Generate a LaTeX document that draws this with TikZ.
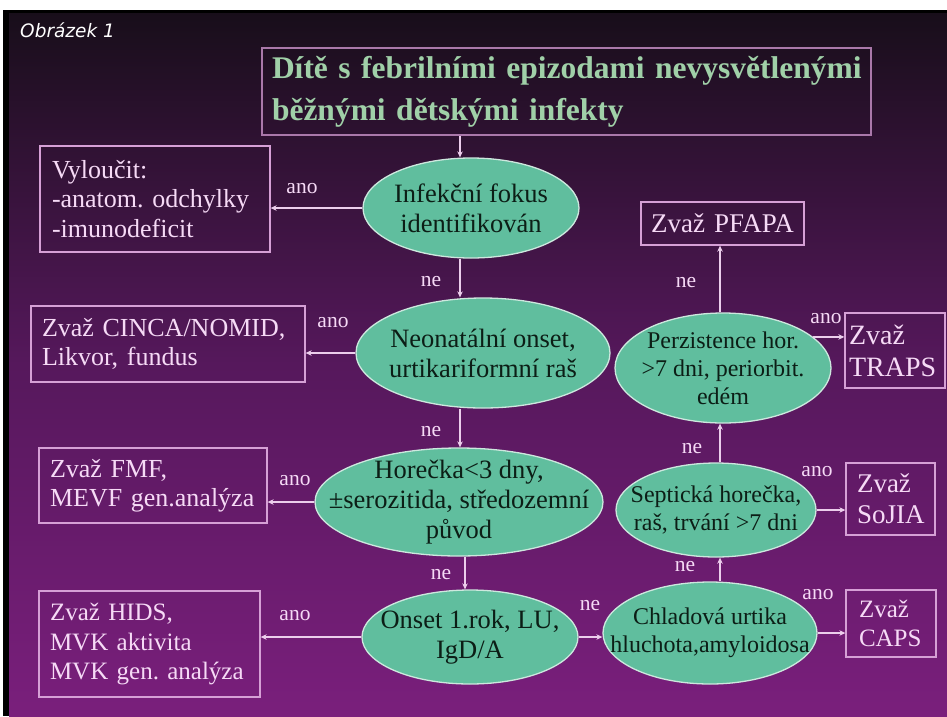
\documentclass[tikz,border=0pt]{standalone}
\usepackage{fontspec}
\setmainfont{Liberation Serif}
\newfontfamily\capfont{DejaVu Sans}
\usetikzlibrary{shapes.geometric,arrows.meta}
\definecolor{bgtop}{RGB}{24,14,26}
\definecolor{bgmid}{RGB}{86,24,92}
\definecolor{bgbot}{RGB}{122,31,124}
\definecolor{ellfill}{RGB}{96,190,158}
\definecolor{elledge}{RGB}{205,232,222}
\definecolor{elltext}{RGB}{12,30,22}
\definecolor{boxedge}{RGB}{214,160,214}
\definecolor{boxtext}{RGB}{246,218,246}
\definecolor{linec}{RGB}{236,206,236}
\definecolor{ttledge}{RGB}{170,120,170}
\definecolor{ttltext}{RGB}{160,208,168}
\frenchspacing
\newcommand{\oneline}[1]{\mbox{#1}}
\begin{document}
\begin{tikzpicture}[x=1pt,y=-1pt,
 ell/.style={ellipse, draw=elledge, fill=ellfill, line width=1.3pt, inner sep=0pt},
 etxt/.style={align=center, text=elltext, inner sep=0pt, font=\fontsize{26.5}{30}\selectfont},
 setxt/.style={align=center, text=elltext, inner sep=0pt, font=\fontsize{24}{28}\selectfont},
 infobox/.style={draw=boxedge, line width=1.3pt, text=boxtext, align=left, inner ysep=0pt, font=\fontsize{26}{29.5}\selectfont},
 lbl/.style={text=boxtext, inner sep=0pt, font=\fontsize{21.5}{24}\selectfont},
 conn/.style={draw=linec, line width=1.3pt, -{Stealth[length=6pt,width=5.5pt]}},
]
\useasboundingbox (0,0) rectangle (947,716);
\fill[white] (0,0) rectangle (947,716);
\fill[black] (3,10) rectangle (947,716);
\shade[top color=bgtop, bottom color=bgbot, middle color=bgmid] (9,13) rectangle (947,716);

\node[anchor=base west, text=white, inner sep=0pt, font=\capfont\itshape\fontsize{18.5}{22}\selectfont] (cap) at (20,37) {Obrázek 1};

% title
\node[draw=ttledge, line width=1.3pt, text=ttltext, align=left, text width=589pt, inner xsep=10pt, inner ysep=0pt, minimum height=87pt, font=\fontsize{31.5}{42}\selectfont\bfseries] (title) at (566.5,91.5) {\oneline{Dítě s febrilními epizodami nevysvětlenými}\\\oneline{běžnými dětskými infekty}};

% ellipses (left column)
\node[ell, minimum width=216pt, minimum height=100pt] (e1) at (471,208) {};
\node[etxt] (t1) at (e1) {Infekční fokus\\identifikován};
\node[ell, minimum width=254pt, minimum height=110pt] (e2) at (483,353) {};
\node[etxt] (t2) at (e2) {Neonatální onset,\\urtikariformní raš};
\node[ell, minimum width=288pt, minimum height=108pt] (e3) at (459,502) {};
\node[etxt] (t3) at (e3) {Horečka<3 dny,\\±serozitida, středozemní\\původ};
\node[ell, minimum width=216pt, minimum height=94pt] (e4) at (470,637) {};
\node[etxt] (t4) at (e4) {Onset 1.rok, LU,\\IgD/A};

% ellipses (right column)
\node[ell, minimum width=214pt, minimum height=102pt] (e5) at (710,633) {};
\node[setxt] (t5) at (e5) {Chladová urtika\\hluchota,amyloidosa};
\node[ell, minimum width=200pt, minimum height=94pt] (e6) at (716,510) {};
\node[setxt] (t6) at (e6) {Septická horečka,\\raš, trvání >7 dni};
\node[ell, minimum width=216pt, minimum height=110pt] (e7) at (723,368) {};
\node[setxt] (t7) at (e7) {Perzistence hor.\\>7 dni, periorbit.\\edém};

% boxes
\node[infobox, text width=206pt, inner xsep=12pt, minimum height=106pt] (b1) at (155,199) {\oneline{Vyloučit:}\\\oneline{-anatom. odchylky}\\\oneline{-imunodeficit}};
\node[infobox, text width=252pt, inner xsep=11pt, minimum height=76pt] (b2) at (168,344) {\oneline{Zvaž CINCA/NOMID,}\\\oneline{Likvor, fundus}};
\node[infobox, text width=206pt, inner xsep=11pt, minimum height=75pt] (b3) at (153,485.5) {\oneline{Zvaž FMF,}\\\oneline{MEVF gen.analýza}};
\node[infobox, font=\fontsize{25}{29.5}\selectfont, text width=199pt, inner xsep=11pt, minimum height=106pt] (b4) at (149.5,644) {\oneline{Zvaž HIDS,}\\\oneline{MVK aktivita}\\\oneline{MVK gen. analýza}};
\node[infobox, font=\fontsize{25}{29}\selectfont, text width=64pt, inner xsep=13pt, minimum height=67pt] (b5) at (891,623.5) {\oneline{Zvaž}\\\oneline{CAPS}};
\node[infobox, font=\fontsize{27}{31}\selectfont, text width=67pt, inner xsep=11pt, minimum height=72pt] (b6) at (890.5,499) {\oneline{Zvaž}\\\oneline{SoJIA}};
\node[infobox, font=\fontsize{28}{32}\selectfont, text width=92pt, inner xsep=4pt, minimum height=75pt] (b7) at (895,350.5) {\oneline{Zvaž}\\\oneline{TRAPS}};
\node[infobox, font=\fontsize{27}{31}\selectfont, align=center, text width=153pt, inner xsep=5pt, minimum height=43pt] (b8) at (722.5,223.5) {\oneline{Zvaž PFAPA}};

% vertical connectors, left column
\draw[conn] ([xshift=-106.5pt]title.south) -- ([xshift=-11pt]e1.north);
\draw[conn] ([xshift=-11pt]e1.south) -- ([xshift=-23pt]e2.north);
\draw[conn] ([xshift=-23pt]e2.south) -- ([xshift=1pt]e3.north);
\draw[conn] ([xshift=6pt]e3.south) -- ([xshift=-5pt]e4.north);
% horizontal connectors to the left boxes
\draw[conn] (e1.west) -- (e1.west -| b1.east);
\draw[conn] (e2.west) -- (e2.west -| b2.east);
\draw[conn] (e3.west) -- (e3.west -| b3.east);
\draw[conn] (e4.west) -- (e4.west -| b4.east);
% right column
\draw[conn] (e4.east) -- (e4.east -| e5.west);
\draw[conn] (e5.east) -- (e5.east -| b5.west);
\draw[conn] ([xshift=10pt]e5.north) -- ([xshift=4pt]e6.south);
\draw[conn] (e6.east) -- (e6.east -| b6.west);
\draw[conn] ([xshift=4pt]e6.north) -- ([xshift=-3pt]e7.south);
\draw[conn] (e7.19) -- (e7.19 -| b7.west);
\draw[conn] ([xshift=-3pt]e7.north) -- ([xshift=-2.5pt]b8.south);

% labels
\node[lbl] (l1) at (302,189) {ano};
\node[lbl] (l2) at (333,323) {ano};
\node[lbl] (l3) at (295,481) {ano};
\node[lbl] (l4) at (295,616) {ano};
\node[lbl] (l5) at (431,282) {ne};
\node[lbl] (l6) at (431,432) {ne};
\node[lbl] (l7) at (441,575) {ne};
\node[lbl] (l8) at (590,606) {ne};
\node[lbl] (l9) at (685,567) {ne};
\node[lbl] (l10) at (692,449) {ne};
\node[lbl] (l11) at (686,283) {ne};
\node[lbl] (l12) at (818,595) {ano};
\node[lbl] (l13) at (817,472) {ano};
\node[lbl] (l14) at (826,319) {ano};
\end{tikzpicture}
\end{document}
